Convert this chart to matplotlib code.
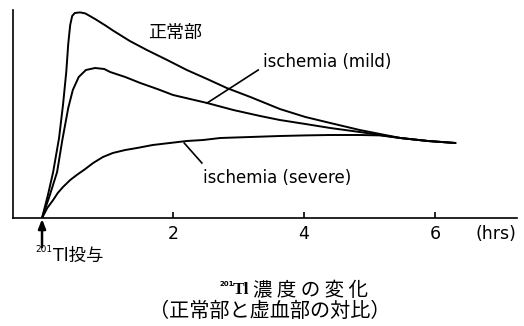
import matplotlib
matplotlib.use("Agg")
import matplotlib.pyplot as plt

plt.rcParams['font.family'] = ['DejaVu Sans', 'Noto Sans CJK JP']

# ---- data (hours, relative 201Tl concentration) ----
normal_t = [0.00, 0.09, 0.17, 0.26, 0.32, 0.37, 0.40, 0.43, 0.46, 0.50, 0.58, 0.66, 0.81,
            0.98, 1.08, 1.34, 1.60, 1.91, 2.21, 2.52, 2.82, 3.18, 3.63, 4.02, 4.40, 4.85, 5.16,
            5.47, 5.89, 6.31]
normal_v = [0.0, 11.5, 23.0, 40.0, 56.5, 73.0, 87.0, 96.5, 101.0, 102.5, 102.8, 102.3, 99.5,
            96.0, 93.8, 88.5, 84.0, 79.0, 74.0, 69.5, 65.0, 60.5, 54.5, 50.5, 47.5, 44.0, 42.0,
            40.0, 38.5, 37.5]

mild_t = [0.00, 0.12, 0.23, 0.31, 0.40, 0.47, 0.56, 0.67, 0.81, 0.95, 1.04, 1.27,
          1.50, 1.76, 2.00, 2.26, 2.52, 2.92, 3.33, 3.63, 4.02, 4.40, 4.85, 5.16, 5.47, 5.89, 6.31]
mild_v = [0.0, 11.5, 23.0, 39.0, 55.0, 64.0, 70.5, 74.0, 75.0, 74.5, 73.0, 70.5,
          67.5, 64.5, 61.5, 59.5, 57.5, 54.0, 51.0, 49.0, 47.0, 45.0, 43.0, 41.5, 40.0, 38.5, 37.5]

severe_t = [0.00, 0.08, 0.17, 0.24, 0.32, 0.43, 0.53, 0.66, 0.78, 0.93, 1.08, 1.27, 1.45, 1.69,
            1.95, 2.21, 2.46, 2.72, 3.18, 3.63, 4.02, 4.40, 4.85, 5.16, 5.47, 5.89, 6.31]
severe_v = [0.0, 5.0, 9.0, 12.5, 15.5, 19.0, 21.5, 24.5, 27.5, 30.5, 32.5, 34.0, 35.0, 36.5,
            37.5, 38.5, 39.0, 40.0, 40.5, 41.0, 41.3, 41.5, 41.5, 41.3, 40.0, 38.5, 37.5]

xticks = [2, 4, 6]
xtick_labels = ["2", "4", "6"]

label_normal = "正常部"
label_mild = "ischemia (mild)"
label_severe = "ischemia (severe)"
unit_label = "(hrs)"
dose_label = "Tl投与"
title_jp1 = "濃 度 の 変 化"
title_jp2 = "（正常部と虚血部の対比）"

# ---- figure ----
W, H = 524, 326
fig = plt.figure(figsize=(W / 100, H / 100), dpi=100)
ax = fig.add_axes([13 / W, 1 - 218 / H, (517 - 13) / W, (218 - 10) / H])

lw = 1.4
for t, v in [(normal_t, normal_v), (mild_t, mild_v), (severe_t, severe_v)]:
    ax.plot(t, v, color='black', lw=lw, solid_joinstyle='round', solid_capstyle='round')

ax.set_xlim(-0.443, 7.25)
ax.set_ylim(0, 104)

for s in ['top', 'right']:
    ax.spines[s].set_visible(False)
for s in ['left', 'bottom']:
    ax.spines[s].set_linewidth(1.2)
    ax.spines[s].set_color('black')

ax.set_yticks([])
ax.set_xticks(xticks)
ax.set_xticklabels(xtick_labels, fontsize=12.5, family='DejaVu Sans')
ax.tick_params(axis='x', direction='in', length=4, width=1.2, pad=5)

# labels with leaders
ax.text(2.03, 92.5, label_normal, fontsize=13, family='Noto Sans CJK JP',
        ha='center', va='center')
ax.plot([2.52, 3.30], [57.5, 74.0], color='black', lw=1.2)
ax.text(3.37, 78, label_mild, fontsize=12, ha='left', va='center')
ax.plot([2.17, 2.44], [37.5, 27.5], color='black', lw=1.2)
ax.text(2.46, 20, label_severe, fontsize=12, ha='left', va='center')

# unit label
ax.text(6.93, -0.078, unit_label, fontsize=12.5, ha='center', va='center',
        transform=ax.get_xaxis_transform())

# dosing arrow at t = 0
ax.annotate('', xy=(0, -0.005), xycoords=('data', 'axes fraction'),
            xytext=(0, -0.14), textcoords=('data', 'axes fraction'),
            arrowprops=dict(arrowstyle='-|>,head_length=0.55,head_width=0.22',
                            color='black', lw=1.8, shrinkA=0, shrinkB=0),
            annotation_clip=False)

# 201Tl dose text
fig.text(35 / W, 1 - 249 / H, "201", fontsize=6.5, ha='left', va='center')
fig.text(53 / W, 1 - 256 / H, dose_label, fontsize=12.5,
         family=['DejaVu Sans', 'Noto Sans CJK JP'], ha='left', va='center')

# caption
fig.text(219 / W, 1 - 284 / H, "201", fontsize=5, ha='left', va='center', weight='bold')
fig.text(233 / W, 1 - 290 / H, "Tl", fontsize=12.5, ha='left', va='center',
         family='Liberation Serif', weight='bold')
fig.text(253 / W, 1 - 290 / H, title_jp1, fontsize=14, ha='left', va='center',
         family='Noto Sans CJK JP')
fig.text(270 / W, 1 - 311.5 / H, title_jp2, fontsize=14.5, ha='center', va='center',
         family='Noto Sans CJK JP')

fig.savefig("out.png", dpi=100)
